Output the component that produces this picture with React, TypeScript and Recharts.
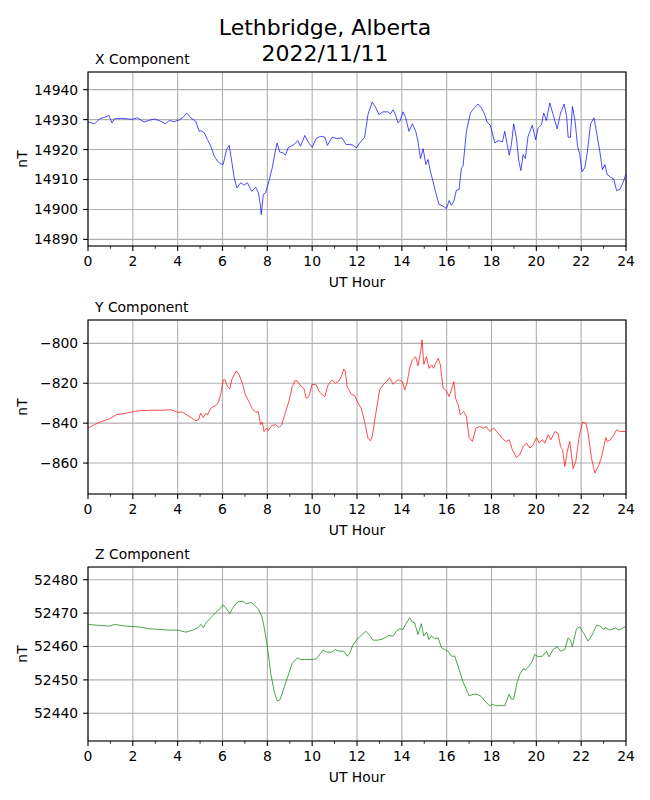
import React from 'react'
import {
  LineChart,
  Line,
  XAxis,
  YAxis,
  CartesianGrid,
  ReferenceArea,
} from 'recharts'

// Lethbridge magnetometer, 2022/11/11
const xHours = [
  0, 0.3, 0.52, 0.75, 0.93, 1.07, 1.19, 1.45, 1.7, 1.95, 2.2, 2.5, 2.75, 2.96, 3.2, 3.45, 3.63, 3.85,
  4.07, 4.25, 4.4, 4.59, 4.81, 4.96, 5.04, 5.19, 5.33, 5.48, 5.63, 5.78, 5.93, 6.03, 6.18, 6.3, 6.41,
  6.52, 6.64, 6.81, 6.96, 7.11, 7.3, 7.48, 7.6, 7.68, 7.73, 7.82, 7.93, 8.07, 8.22, 8.34, 8.44, 8.55,
  8.7, 8.81, 8.93, 9.19, 9.36, 9.48, 9.67, 9.85, 10.0, 10.18, 10.37, 10.56, 10.68, 10.89, 11.11, 11.33,
  11.51, 11.67, 11.82, 11.97, 12.12, 12.34, 12.49, 12.68, 12.83, 12.98, 13.16, 13.38, 13.49, 13.61,
  13.71, 13.83, 13.93, 14.05, 14.17, 14.32, 14.47, 14.62, 14.72, 14.83, 14.95, 15.07, 15.17, 15.27,
  15.39, 15.51, 15.66, 15.84, 15.99, 16.11, 16.21, 16.32, 16.43, 16.55, 16.66, 16.73, 16.88, 17.06,
  17.21, 17.4, 17.55, 17.7, 17.8, 17.95, 18.15, 18.3, 18.49, 18.59, 18.79, 18.89, 18.99, 19.11, 19.22,
  19.31, 19.41, 19.51, 19.63, 19.82, 19.97, 20.08, 20.23, 20.33, 20.45, 20.6, 20.75, 20.93, 21.08,
  21.24, 21.35, 21.42, 21.52, 21.61, 21.73, 21.84, 21.94, 22.04, 22.16, 22.27, 22.42, 22.57, 22.68,
  22.83, 22.95, 23.06, 23.16, 23.31, 23.46, 23.58, 23.73, 23.88, 24,
]
const xValues = [
  14929.2, 14928.6, 14930.3, 14930.8, 14931.4, 14928.9, 14930.3, 14930.4, 14930.3, 14930.1, 14930.6,
  14929.2, 14929.8, 14930.2, 14929.6, 14928.6, 14929.7, 14929.3, 14929.9, 14930.8, 14932.2, 14930.6,
  14929.4, 14926.1, 14926.3, 14925.6, 14923.3, 14921.1, 14917.8, 14916.1, 14915.2, 14915, 14920,
  14921.4, 14916.1, 14910.6, 14907.2, 14908.9, 14908.1, 14908.9, 14906.1, 14907.4, 14905.6, 14902,
  14898.3, 14905, 14905.6, 14909.4, 14913.9, 14918.9, 14922.2, 14919.2, 14918.9, 14918.1, 14920.6,
  14921.7, 14923, 14921.1, 14924.7, 14922.2, 14920.8, 14923.7, 14924.4, 14924.2, 14921.4, 14924.1,
  14923.7, 14923.9, 14921.7, 14921.7, 14921.5, 14920.6, 14922.2, 14924.1, 14931.7, 14935.9, 14934.1,
  14931.7, 14932.6, 14932.6, 14931.9, 14933.3, 14931.7, 14928.9, 14929.7, 14932.6, 14930.6, 14926.1,
  14928.6, 14926.1, 14922.8, 14917, 14920.3, 14915, 14916.7, 14912.8, 14909.4, 14905.6, 14901.7,
  14901.1, 14900.3, 14903, 14901.4, 14902.8, 14906.3, 14906.7, 14913.9, 14914.4, 14926.1, 14932.2,
  14933.7, 14935.2, 14933.9, 14931.7, 14929.2, 14928.1, 14922.2, 14923, 14922.6, 14926.1, 14918.1,
  14921.7, 14928.6, 14923.9, 14916.1, 14913, 14918.3, 14917, 14924.4, 14928.1, 14923.3, 14927.2,
  14928.3, 14932.2, 14929.7, 14935.6, 14931.7, 14926.9, 14932.2, 14935.2, 14931.1, 14924.1, 14924.1,
  14934.4, 14929.4, 14921.1, 14918.3, 14912.6, 14913.9, 14918.9, 14928.6, 14930.6, 14926.1, 14919.4,
  14913.3, 14915, 14911.7, 14910.8, 14910, 14906.3, 14906.7, 14909.2, 14911.9,
]

const yHours = [
  0, 0.25, 0.52, 0.96, 1.26, 1.7, 2.22, 2.89, 3.3, 3.7, 4.0, 4.22, 4.52, 4.81, 4.93, 5.02, 5.14, 5.26,
  5.33, 5.48, 5.58, 5.7, 5.82, 5.93, 6.03, 6.12, 6.22, 6.33, 6.41, 6.52, 6.62, 6.74, 6.89, 7.01, 7.19,
  7.33, 7.48, 7.6, 7.7, 7.78, 7.85, 7.96, 8.04, 8.19, 8.37, 8.52, 8.64, 8.81, 8.96, 9.11, 9.23, 9.33,
  9.48, 9.63, 9.73, 9.85, 10.0, 10.18, 10.33, 10.56, 10.71, 10.89, 11.04, 11.19, 11.3, 11.41, 11.48,
  11.56, 11.75, 11.9, 12.04, 12.19, 12.34, 12.49, 12.6, 12.68, 12.83, 13.01, 13.16, 13.31, 13.46, 13.61,
  13.76, 13.88, 14.02, 14.13, 14.23, 14.35, 14.47, 14.62, 14.72, 14.83, 14.9, 14.98, 15.1, 15.21,
  15.32, 15.42, 15.51, 15.62, 15.72, 15.84, 15.99, 16.11, 16.21, 16.32, 16.4, 16.51, 16.61, 16.76,
  16.88, 17.0, 17.15, 17.3, 17.48, 17.63, 17.77, 17.92, 18.1, 18.29, 18.49, 18.64, 18.79, 18.93, 19.11,
  19.26, 19.41, 19.56, 19.71, 19.86, 20.01, 20.13, 20.27, 20.38, 20.53, 20.65, 20.83, 20.97, 21.08,
  21.17, 21.27, 21.38, 21.49, 21.57, 21.64, 21.76, 21.91, 22.06, 22.21, 22.31, 22.46, 22.61, 22.76,
  22.9, 23.01, 23.1, 23.16, 23.31, 23.46, 23.58, 23.73, 24,
]
const yValues = [
  -842.5, -841, -839.5, -837.8, -835.8, -835, -833.8, -833.5, -833.5, -833.3, -834.5, -834.5, -836.7,
  -838.8, -838.3, -835, -837.2, -835, -835.8, -832.5, -831.7, -831.2, -829.5, -825, -818.3, -818.3,
  -821.7, -822.8, -818.3, -815.8, -813.8, -815.8, -820, -825.5, -829.5, -832.8, -834.5, -834.2, -840.8,
  -839.5, -844.2, -842.5, -843.8, -841.2, -840.8, -842.2, -840.8, -834.5, -829.2, -821.7, -818.8,
  -818.8, -821.2, -822.5, -827.5, -826.7, -820.5, -820.8, -824.5, -826.7, -820.8, -818.3, -820, -818.8,
  -816.7, -812.8, -814.2, -821.7, -825.5, -826.2, -829.8, -832.5, -839.2, -847.5, -848.8, -846.7,
  -835.8, -823.3, -820.8, -819.2, -817.2, -820.5, -818.8, -818.3, -819.2, -823.3, -820, -812.5, -808.3,
  -806.7, -811.2, -805, -798.3, -810.5, -806.7, -812.5, -810.8, -812.5, -810, -807.5, -810.8, -822.5,
  -823.8, -826.7, -823.3, -819.2, -827.5, -830.8, -835.8, -834.2, -836.7, -847.2, -849.2, -842.5,
  -841.7, -842.5, -841.7, -844.2, -842.5, -845, -847.8, -849.2, -848.3, -853.3, -857.2, -855.8, -851.7,
  -850, -852.5, -850.8, -847.2, -850, -848.3, -850, -845.8, -848.3, -844.2, -845, -851.7, -853.3,
  -861.7, -854.2, -849.2, -855.8, -862.8, -859.2, -846.7, -839.5, -840, -845, -857.5, -865, -861.7,
  -857.5, -851.7, -847.2, -849.2, -848.3, -845.8, -843.3, -844.2, -844.2,
]

const zHours = [
  0, 0.52, 0.96, 1.19, 1.7, 2.22, 2.74, 3.19, 3.63, 4.0, 4.37, 4.67, 4.89, 5.04, 5.14, 5.26, 5.48, 5.7,
  5.85, 6.03, 6.15, 6.33, 6.44, 6.59, 6.74, 6.92, 7.04, 7.19, 7.27, 7.41, 7.6, 7.75, 7.85, 8.0, 8.15,
  8.3, 8.44, 8.56, 8.7, 8.89, 9.11, 9.33, 9.48, 9.7, 10.0, 10.18, 10.37, 10.47, 10.67, 10.86, 11.04,
  11.19, 11.41, 11.56, 11.66, 11.81, 12.04, 12.12, 12.39, 12.57, 12.71, 12.94, 13.16, 13.43, 13.61,
  13.76, 13.9, 14.05, 14.17, 14.35, 14.47, 14.57, 14.72, 14.87, 14.98, 15.1, 15.21, 15.32, 15.47,
  15.62, 15.77, 15.91, 16.06, 16.21, 16.36, 16.46, 16.58, 16.73, 16.91, 17.0, 17.18, 17.36, 17.55,
  17.74, 17.92, 18.04, 18.22, 18.44, 18.59, 18.7, 18.79, 18.89, 18.99, 19.14, 19.26, 19.41, 19.53,
  19.68, 19.82, 19.93, 20.08, 20.27, 20.45, 20.57, 20.75, 20.93, 21.08, 21.27, 21.42, 21.52, 21.61,
  21.79, 21.94, 22.12, 22.31, 22.5, 22.68, 22.86, 22.98, 23.1, 23.28, 23.55, 23.65, 23.8, 24,
]
const zValues = [
  52466.6, 52466.3, 52466.1, 52466.6, 52466.1, 52465.9, 52465.3, 52465.1, 52464.9, 52464.9, 52464.3,
  52464.9, 52465.6, 52466.6, 52465.6, 52467.1, 52468.6, 52470.2, 52471, 52472.5, 52471.5, 52469.9,
  52471.3, 52472.8, 52473.5, 52473.5, 52472.8, 52473, 52473.2, 52472.5, 52471.2, 52469.1, 52466.1,
  52460.1, 52452.1, 52446.7, 52443.7, 52444, 52446.7, 52450.6, 52454.9, 52456.6, 52456.1, 52456.1,
  52456.1, 52456.3, 52457.9, 52458.9, 52458.3, 52458.3, 52459.1, 52458.6, 52458.6, 52457.1, 52457.8,
  52460.3, 52462.5, 52462.9, 52464.6, 52463.3, 52461.9, 52461.9, 52462.3, 52463.3, 52463.1, 52464.6,
  52465.3, 52465.1, 52466.6, 52468.6, 52467.3, 52467.1, 52463.6, 52466.8, 52463.1, 52464.3, 52462.1,
  52463.1, 52462.3, 52462.6, 52459.6, 52459.1, 52458.6, 52457.1, 52457.1, 52455.1, 52452.6, 52449.4,
  52446.7, 52445.2, 52445.7, 52445.7, 52445, 52443.4, 52442.2, 52442.7, 52442.2, 52442.4, 52442.2,
  52444.2, 52445.7, 52444.2, 52444.2, 52449.2, 52451.6, 52453.3, 52453.1, 52454.1, 52455.6, 52457.6,
  52456.9, 52457.1, 52458.6, 52456.9, 52459.1, 52459.9, 52458.6, 52459.1, 52462.6, 52461.9, 52459.9,
  52465.3, 52465.9, 52463.9, 52461.6, 52463.6, 52466.3, 52466.1, 52465.1, 52465.6, 52464.9, 52465.6,
  52464.9, 52465.3, 52466.1,
]

const hourTicks = Array.from({ length: 25 }, (_, i) => i)
const hourGrid = [0, 2, 4, 6, 8, 10, 12, 14, 16, 18, 20, 22, 24]
const xTicks = [14890, 14900, 14910, 14920, 14930, 14940]
const yTicks = [-860, -840, -820, -800]
const zTicks = [52440, 52450, 52460, 52470, 52480]

const FONT = 13.9
const PLOT_H = 174
const TOP_PAD = 30
const BOTTOM_PAD = 50

const toRows = (hours: number[], values: number[]) =>
  hours.map((h, i) => ({ hour: h, value: values[i] }))

const minus = (v: number) => String(v).replace('-', '\u2212')

const HourTick = (props: any) => {
  const { x, y, payload } = props
  const major = payload.value % 2 === 0
  return (
    <g>
      <line x1={x} x2={x} y1={y} y2={y + (major ? 4.9 : 2.8)} stroke="#000" strokeWidth={major ? 1.1 : 0.8} />
      {major && (
        <text x={x} y={y + 9.7} dy="0.76em" textAnchor="middle" fontSize={FONT} fill="#000">
          {payload.value}
        </text>
      )}
    </g>
  )
}

interface PanelProps {
  top: number
  data: { hour: number; value: number }[]
  color: string
  domain: [number, number]
  ticks: number[]
}

function Panel({ top, data, color, domain, ticks }: PanelProps) {
  return (
    <div style={{ position: 'absolute', left: 0, top: top - TOP_PAD }}>
      <LineChart
        width={650}
        height={TOP_PAD + PLOT_H + BOTTOM_PAD}
        data={data}
        margin={{ top: TOP_PAD, right: 24, left: 0, bottom: 0 }}
      >
        <CartesianGrid stroke="#b0b0b0" strokeWidth={1.1} verticalValues={hourGrid} />
        <XAxis
          dataKey="hour"
          type="number"
          domain={[0, 24]}
          allowDataOverflow
          ticks={hourTicks}
          interval={0}
          tick={<HourTick />}
          tickLine={false}
          tickSize={0}
          tickMargin={0}
          axisLine={false}
          height={BOTTOM_PAD}
        />
        <YAxis
          type="number"
          domain={domain}
          allowDataOverflow
          ticks={ticks}
          interval={0}
          width={88}
          tickSize={4.9}
          tickMargin={4.9}
          tickLine={{ stroke: '#000', strokeWidth: 1.1 }}
          tick={{ fill: '#000', fontSize: FONT }}
          tickFormatter={minus}
          axisLine={false}
        />
        <Line
          type="linear"
          dataKey="value"
          stroke={color}
          strokeWidth={0.7}
          dot={false}
          isAnimationActive={false}
        />
        <ReferenceArea
          x1={0}
          x2={24}
          y1={domain[0]}
          y2={domain[1]}
          fill="none"
          stroke="#000"
          strokeWidth={1.1}
          ifOverflow="visible"
        />
      </LineChart>
    </div>
  )
}

const panels = [
  { top: 72, title: 'X Component', color: '#0000ff', rows: toRows(xHours, xValues), domain: [14887.8, 14945.9] as [number, number], ticks: xTicks },
  { top: 320, title: 'Y Component', color: '#ff0000', rows: toRows(yHours, yValues), domain: [-875.5, -788.3] as [number, number], ticks: yTicks },
  { top: 567, title: 'Z Component', color: '#008000', rows: toRows(zHours, zValues), domain: [52431.7, 52483.8] as [number, number], ticks: zTicks },
]

export default function App() {
  return (
    <div
      style={{
        position: 'relative',
        width: 650,
        height: 800,
        background: '#fff',
        fontFamily: '"DejaVu Sans", sans-serif',
      }}
    >
      <style>{'body{margin:0}'}</style>
      {panels.map((p) => (
        <Panel key={p.title} top={p.top} data={p.rows} color={p.color} domain={p.domain} ticks={p.ticks} />
      ))}
      <svg width={650} height={800} style={{ position: 'absolute', left: 0, top: 0, pointerEvents: 'none' }}>
        <text x={325} y={35} textAnchor="middle" fontSize={22} fill="#000">Lethbridge, Alberta</text>
        <text x={325} y={61} textAnchor="middle" fontSize={22} fill="#000">2022/11/11</text>
        {panels.map((p) => (
          <g key={p.title}>
            <text x={95} y={p.top - 8} fontSize={FONT} fill="#000">{p.title}</text>
            <text
              x={27}
              y={p.top + PLOT_H / 2}
              fontSize={FONT}
              fill="#000"
              textAnchor="middle"
              transform={`rotate(-90 27 ${p.top + PLOT_H / 2})`}
            >
              nT
            </text>
            <text x={357} y={p.top + PLOT_H + 41} fontSize={FONT} fill="#000" textAnchor="middle">
              UT Hour
            </text>
          </g>
        ))}
      </svg>
    </div>
  )
}
